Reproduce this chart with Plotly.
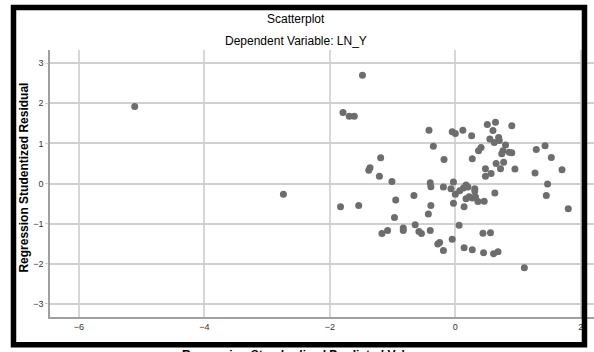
import plotly.graph_objects as go

pred = [-5.11, -2.74, -1.83, -1.79, -1.48, -1.69, -1.61, -0.42, -0.05, 0.00,
        -0.35, -1.19, -0.18, -1.36, -1.38, -1.21, -1.01, 0.12, 0.26, 0.51,
        0.64, 0.60, 0.90, 0.55, 0.69, 0.70, 0.62, 0.80, 0.41, 0.37,
        0.76, 0.74, 0.86, 0.90, 1.29, 1.43, 1.53, 0.27, 0.65, 0.77,
        0.48, 0.72, 0.95, 0.57, 0.48, 1.27, 1.70, -0.40, -0.39, -0.19,
        -0.07, -0.03, 0.00, 0.07, 0.13, 0.17, 0.20, 0.17, 0.22, 0.27,
        0.31, 0.31, 0.32, 0.36, 0.46, 0.63, 1.47, 1.45, 1.80, -0.66,
        -0.95, -1.54, -0.39, -0.03, 0.14, -0.43, -0.97, 0.06, -0.64, -1.08,
        -1.17, -0.83, -0.83, -0.58, -0.54, -0.40, 0.44, 0.56, -0.05, -0.25,
        -0.28, -0.19, 0.14, 0.27, 0.45, 0.61, 0.68, 1.10]
resid = [1.92, -0.27, -0.58, 1.77, 2.70, 1.68, 1.68, 1.33, 1.29, 1.25,
         0.93, 0.64, 0.60, 0.39, 0.33, 0.18, 0.05, 1.33, 1.19, 1.47,
         1.53, 1.32, 1.44, 1.11, 1.15, 1.07, 1.02, 0.96, 0.90, 0.82,
         0.82, 0.74, 0.78, 0.77, 0.85, 0.94, 0.65, 0.62, 0.50, 0.53,
         0.37, 0.37, 0.36, 0.25, 0.18, 0.26, 0.34, 0.02, -0.08, -0.09,
         -0.13, 0.04, -0.27, -0.18, -0.11, -0.04, -0.09, -0.38, -0.33, -0.36,
         -0.13, -0.19, -0.33, -0.45, -0.44, -0.24, -0.01, -0.30, -0.63, -0.30,
         -0.41, -0.55, -0.55, -0.49, -0.58, -0.76, -0.85, -1.04, -1.03, -1.17,
         -1.25, -1.11, -1.17, -1.20, -1.25, -1.17, -1.24, -1.23, -1.39, -1.47,
         -1.51, -1.67, -1.60, -1.65, -1.73, -1.75, -1.70, -2.10]

x_ticks = [-6, -4, -2, 0, 2]
y_ticks = [-3, -2, -1, 0, 1, 2, 3]

fig = go.Figure()
fig.add_trace(go.Scatter(
    x=pred, y=resid, mode="markers",
    marker=dict(color="#6d6d6d", size=7, line=dict(width=0)),
    hoverinfo="skip", showlegend=False))

font_family = "Liberation Sans, Arial, sans-serif"

fig.update_layout(
    width=594, height=352,
    margin=dict(l=50, r=0, t=50, b=35.3),
    paper_bgcolor="white", plot_bgcolor="white",
    font=dict(family=font_family, color="#222"),
    xaxis=dict(range=[-6.46, 2.21], tickvals=x_ticks,
               showgrid=True, gridcolor="#d6d6d6", gridwidth=2,
               showline=True, linecolor="#a0a0a0", linewidth=1.5,
               zeroline=False, ticks="", tickfont=dict(size=9, color="#333")),
    yaxis=dict(range=[-3.33, 3.33], tickvals=y_ticks,
               showgrid=True, gridcolor="#d0d0d0", gridwidth=1.5,
               showline=True, linecolor="#a0a0a0", linewidth=1.5,
               zeroline=False, ticks="outside", ticklen=3, tickcolor="#d0d0d0",
               tickfont=dict(size=9, color="#333")),
    shapes=[dict(type="rect", xref="paper", yref="paper",
                 x0=-0.0671, x1=0.9825, y0=-0.1042, y1=1.1594,
                 line=dict(color="black", width=5.5), layer="above")],
    annotations=[
        dict(text="Scatterplot", xref="paper", yref="paper", x=0.452, y=1.116,
             showarrow=False, xanchor="center", yanchor="middle",
             font=dict(size=12, color="black", family=font_family)),
        dict(text="Dependent Variable: LN_Y", xref="paper", yref="paper",
             x=0.452, y=1.0337, showarrow=False, xanchor="center", yanchor="middle",
             font=dict(size=12, color="black", family=font_family)),
        dict(text="<b>Regression Studentized Residual</b>", xref="paper", yref="paper",
             x=-0.0478, y=0.522, textangle=-90, showarrow=False,
             xanchor="center", yanchor="middle",
             font=dict(size=12, color="black", family=font_family)),
        dict(text="<b>Regression Standardized Predicted Value</b>", xref="paper", yref="paper",
             x=0.460, y=-0.1436, showarrow=False, xanchor="center", yanchor="middle",
             font=dict(size=12, color="black", family=font_family)),
    ],
)

fig.write_html("out.html", config={"displayModeBar": False},
               post_script="document.body.style.margin='0';document.body.style.overflow='hidden';")
